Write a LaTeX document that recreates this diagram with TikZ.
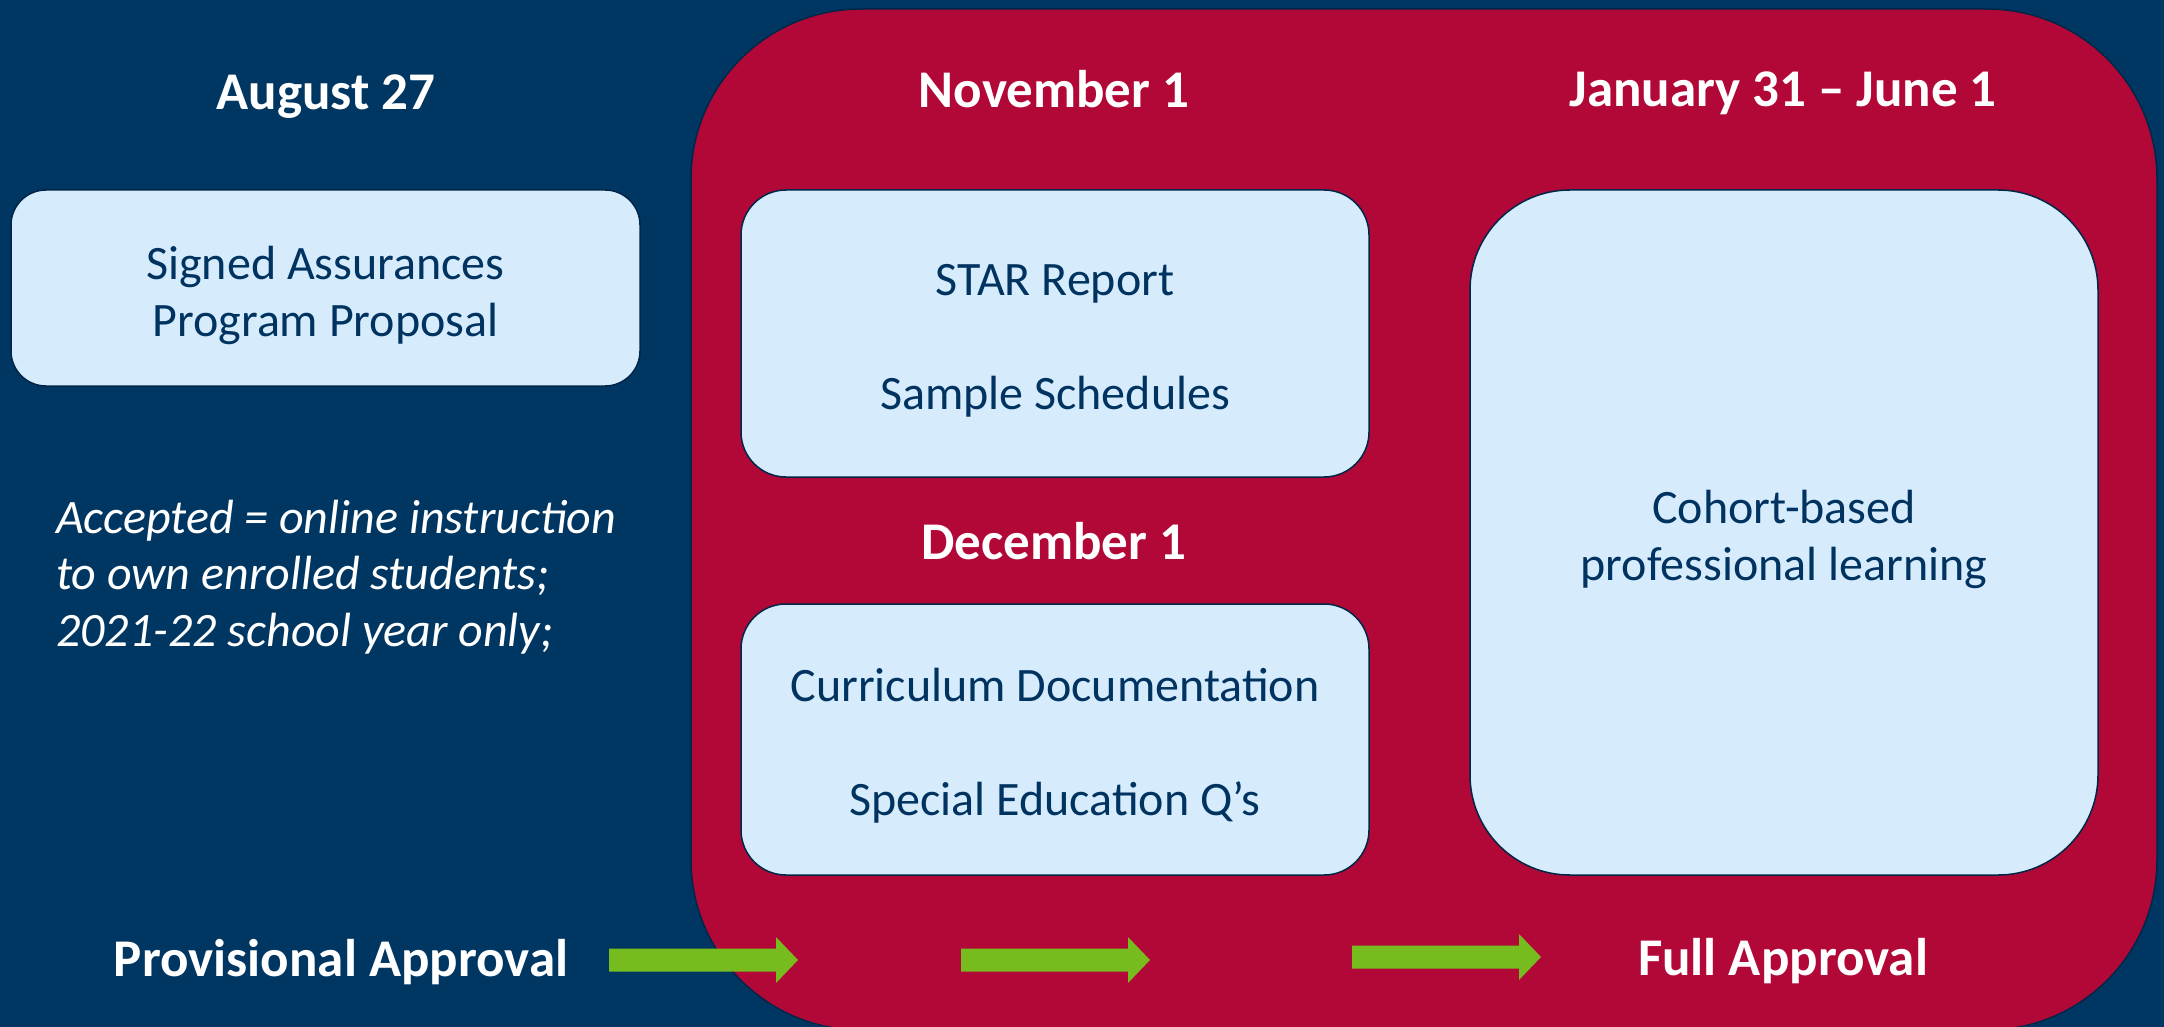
\documentclass[tikz,border=0pt]{standalone}
\usepackage{fontspec}
\setmainfont{Carlito}
\definecolor{navybg}{RGB}{0,54,98}
\definecolor{panelred}{RGB}{178,8,56}
\definecolor{lightbox}{RGB}{214,235,252}
\definecolor{boxtext}{RGB}{0,51,96}
\definecolor{boxline}{RGB}{0,38,72}
\definecolor{arrowgreen}{RGB}{119,188,31}
\begin{document}
\begin{tikzpicture}[x=1pt,y=-1pt,
    box/.style={draw=boxline,line width=1.5pt,fill=lightbox,rounded corners=#1},
    box/.default=40pt,
    boxlabel/.style={text=boxtext,font=\fontsize{48}{57}\selectfont,align=center},
    title/.style={text=white,font=\bfseries\fontsize{53}{63}\selectfont,anchor=base},
    note/.style={text=white,font=\itshape\fontsize{48}{56.3}\selectfont,align=left}]
  \clip (0,0) rectangle (2164,1027);
  \fill[navybg] (0,0) rectangle (2164,1027);
  \draw[boxline,fill=panelred,line width=1.5pt,rounded corners=170pt] (691,9) rectangle (2157,1030);
  \node[box=35pt,minimum width=629pt,minimum height=196pt] (assur) at (325.5,288) {};
  \node[box=45pt,minimum width=628pt,minimum height=287pt] (star) at (1055,333.5) {};
  \node[box=45pt,minimum width=628pt,minimum height=271pt] (curric) at (1055,739.5) {};
  \node[box=100pt,minimum width=628pt,minimum height=685pt] (cohort) at (1784,532.5) {};
  \node[boxlabel] (assurtext) at ([yshift=-7pt]assur.center) {Signed Assurances\\Program Proposal};
  \node[boxlabel] (startext) at ([yshift=-7pt]star.center) {STAR Report\\[57pt]Sample Schedules};
  \node[boxlabel] (currictext) at ([yshift=-6pt]curric.center) {Curriculum Documentation\\[57pt]Special Education Q’s};
  \node[boxlabel] (cohorttext) at ([yshift=-7pt]cohort.center) {Cohort-based\\professional learning};
  \node[title] (aug) at (326,110) {August 27};
  \node[title] (nov) at (1054,108) {November 1};
  \node[title] (jan) at (1783,107) {January 31 – June 1};
  \node[title] (dec) at (1054,559) {December 1};
  \node[title] (prov) at (341,976) {Provisional Approval};
  \node[title] (full) at (1783,975) {Full Approval};
  \node[note,anchor=west,inner sep=0pt] (accepted) at (56,577) {Accepted = online instruction\\to own enrolled students;\\2021-22 school year only;};
  \foreach \x/\y in {609/960,961/960,1352/957}
    \fill[arrowgreen] (\x,\y-11.5) -- ++(167,0) -- ++(0,-11.5) -- ++(22,23) -- ++(-22,23) -- ++(0,-11.5) -- ++(-167,0) -- cycle;
\end{tikzpicture}
\end{document}
